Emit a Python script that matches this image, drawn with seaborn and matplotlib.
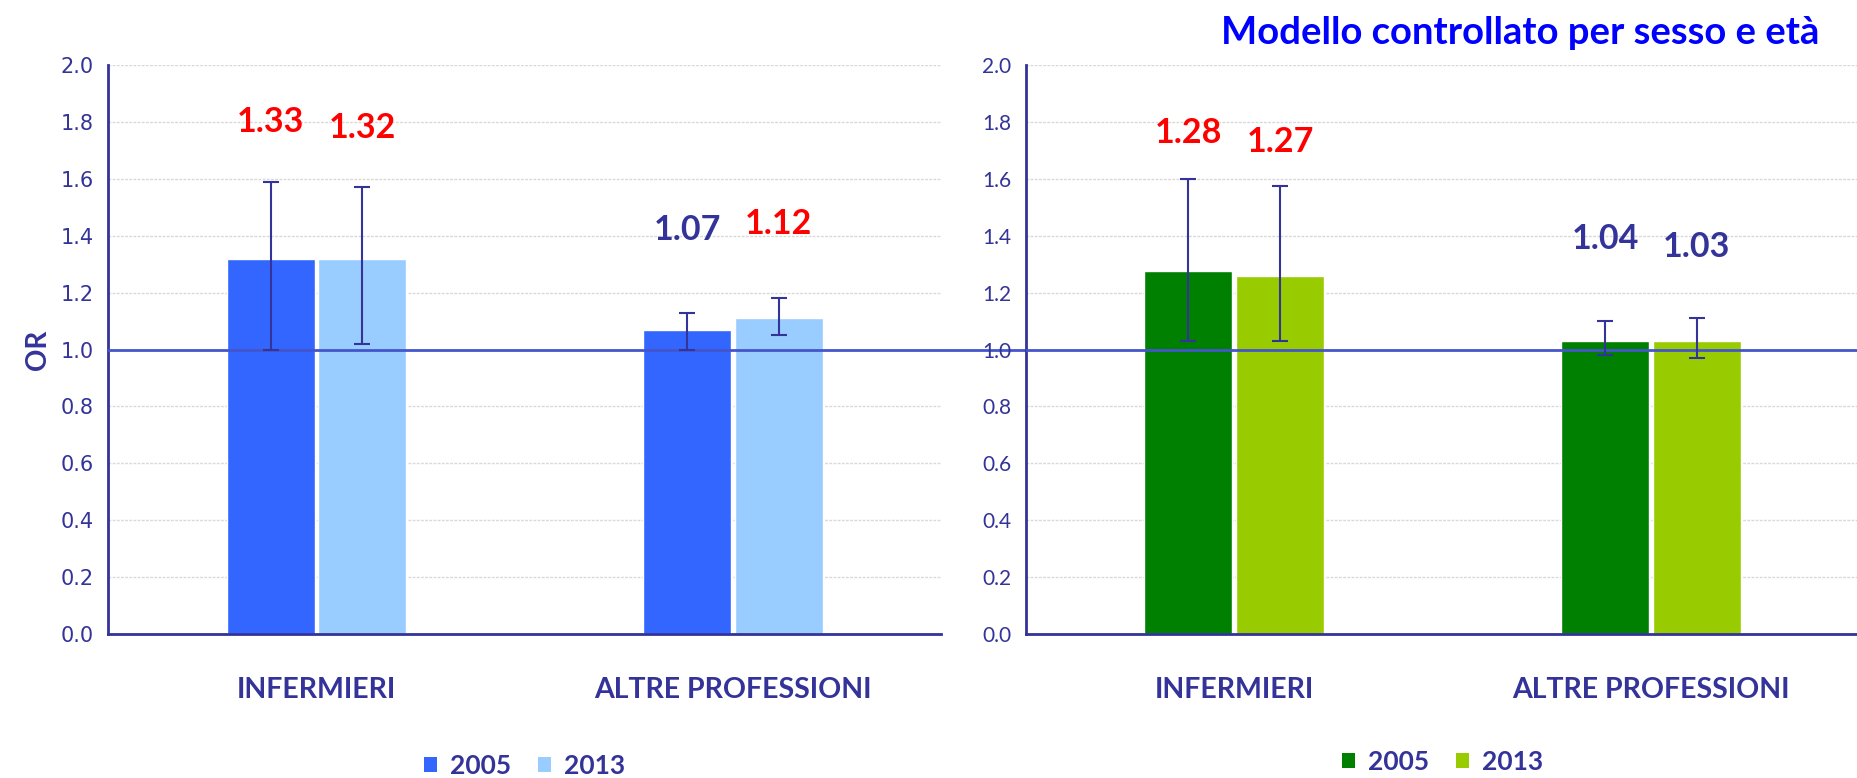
import numpy as np
import pandas as pd
import seaborn as sns
import matplotlib.pyplot as plt
from matplotlib.patches import Patch
from matplotlib.container import BarContainer
from matplotlib.ticker import FormatStrFormatter

categories = ["INFERMIERI", "ALTRE PROFESSIONI"]
years = ["2005", "2013"]

# crude model (left panel)
crude_or_2005 = [1.32, 1.07]
crude_or_2013 = [1.32, 1.11]
crude_lo_2005 = [1.00, 1.00]
crude_hi_2005 = [1.59, 1.13]
crude_lo_2013 = [1.02, 1.05]
crude_hi_2013 = [1.57, 1.18]
crude_lab_2005 = ["1.33", "1.07"]
crude_lab_2013 = ["1.32", "1.12"]
crude_sig_2005 = [True, False]
crude_sig_2013 = [True, True]

# model adjusted for sex and age (right panel)
adj_or_2005 = [1.275, 1.03]
adj_or_2013 = [1.26, 1.03]
adj_lo_2005 = [1.03, 0.98]
adj_hi_2005 = [1.60, 1.10]
adj_lo_2013 = [1.03, 0.97]
adj_hi_2013 = [1.575, 1.11]
adj_lab_2005 = ["1.28", "1.04"]
adj_lab_2013 = ["1.27", "1.03"]
adj_sig_2005 = [True, False]
adj_sig_2013 = [True, False]

title_right = "Modello controllato per sesso e età"

# layout: where the value labels sit (y, data units)
crude_laby = [[1.80, 1.42], [1.78, 1.44]]
adj_laby = [[1.76, 1.39], [1.73, 1.36]]

NAVY = "#333399"
RED = "#ff0000"
LINE = "#4455cc"

sns.set_style("white")
plt.rcParams["font.family"] = ["Lato", "DejaVu Sans"]

fig = plt.figure(figsize=(18.57, 7.78), dpi=100)
ax1 = fig.add_axes([0.0582, 0.185, 0.4486, 0.7314])
ax2 = fig.add_axes([0.5525, 0.185, 0.4486, 0.7314])


def panel(ax, or05, or13, lo05, hi05, lo13, hi13, labs, sigs, laby, colors, tickfont):
    df = pd.DataFrame({
        "cat": categories * 2,
        "year": [years[0]] * 2 + [years[1]] * 2,
        "OR": or05 + or13,
    })
    sns.barplot(data=df, x="cat", y="OR", hue="year", palette=colors,
                saturation=1, width=0.44, gap=0.04, ax=ax, legend=False,
                edgecolor="white", linewidth=1, zorder=2)

    los = [lo05, lo13]
    his = [hi05, hi13]
    vals = [or05, or13]
    bars = [c for c in ax.containers if isinstance(c, BarContainer)]
    for k, cont in enumerate(bars):
        xs = [p.get_x() + p.get_width() / 2 for p in cont]
        y = np.array(vals[k])
        ax.errorbar(xs, y, yerr=[y - np.array(los[k]), np.array(his[k]) - y],
                    fmt="none", ecolor=NAVY, elinewidth=1.5, capsize=6,
                    capthick=1.5, zorder=5)
        for x, lab, s, ly in zip(xs, labs[k], sigs[k], laby[k]):
            ax.text(x, ly, lab, ha="center", va="center", fontsize=24.5,
                    fontweight="bold", color=RED if s else NAVY)

    ax.set_ylim(0, 2)
    ax.set_xlim(-0.5, 1.5)
    ax.set_yticks(np.arange(0, 2.01, 0.2))
    ax.yaxis.set_major_formatter(FormatStrFormatter("%.1f"))
    ax.set_xticks([-0.5, 0.5, 1.5], minor=True)
    ax.set_xlabel("")
    ax.set_ylabel("")
    ax.yaxis.grid(True, color="#d9d9d9", linestyle=(0, (2, 1)), linewidth=1, zorder=0)
    ax.set_axisbelow(True)
    for s in ["top", "right"]:
        ax.spines[s].set_visible(False)
    for s in ["left", "bottom"]:
        ax.spines[s].set_color(NAVY)
        ax.spines[s].set_linewidth(2)
    ax.tick_params(axis="y", length=7, width=1.5, color=NAVY, labelcolor=NAVY,
                   labelsize=15, direction="out")
    ax.tick_params(axis="x", which="major", length=0, pad=31, labelcolor=NAVY,
                   labelsize=20.5)
    ax.tick_params(axis="x", which="minor", length=8, width=1.5, color=NAVY,
                   direction="out")
    for t in ax.get_xticklabels():
        t.set_fontweight("bold")
    for t in ax.get_yticklabels():
        t.set_fontfamily(tickfont)


panel(ax1, crude_or_2005, crude_or_2013, crude_lo_2005, crude_hi_2005,
      crude_lo_2013, crude_hi_2013, [crude_lab_2005, crude_lab_2013],
      [crude_sig_2005, crude_sig_2013], crude_laby, ["#3366ff", "#99ccff"],
      "DejaVu Sans")
panel(ax2, adj_or_2005, adj_or_2013, adj_lo_2005, adj_hi_2005,
      adj_lo_2013, adj_hi_2013, [adj_lab_2005, adj_lab_2013],
      [adj_sig_2005, adj_sig_2013], adj_laby, ["#008000", "#99cc00"],
      "Lato")

# reference line at OR = 1 running across both panels
ax1.axhline(1.0, 0, 1.105, color=LINE, lw=2, zorder=4, clip_on=False)
ax2.axhline(1.0, 0, 1, color=LINE, lw=2, zorder=4)

ax1.set_ylabel("OR", fontsize=20, fontweight="bold", color=NAVY)
ax1.yaxis.set_label_coords(-0.068, 0.5)

ax2.text(0.593, 1.056, title_right, transform=ax2.transAxes, ha="center",
         va="center", fontsize=27.5, fontweight="bold", color="#0000ff")

for ax, cols, ly in [(ax1, ["#3366ff", "#99ccff"], -0.232),
                     (ax2, ["#008000", "#99cc00"], -0.225)]:
    handles = [Patch(facecolor=c, edgecolor="none", label=y) for c, y in zip(cols, years)]
    leg = ax.legend(handles=handles, loc="center", bbox_to_anchor=(0.5, ly),
                    ncol=2, frameon=False, handlelength=0.5, handleheight=0.5,
                    handletextpad=0.5, columnspacing=1.0,
                    prop={"size": 19, "weight": "bold"})
    for t in leg.get_texts():
        t.set_color(NAVY)

fig.savefig("out.png", dpi=100)
